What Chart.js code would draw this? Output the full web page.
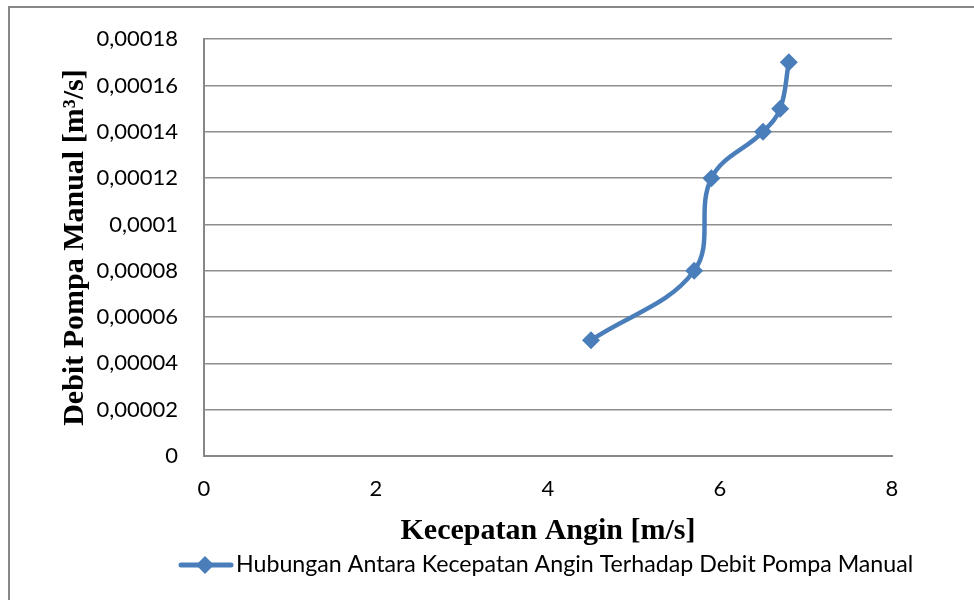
<!DOCTYPE html>
<html>
<head>
<meta charset="utf-8">
<script src="https://cdn.jsdelivr.net/npm/chart.js@4"></script>
<style>
  html, body { margin: 0; padding: 0; background: #ffffff; }
  #wrap { width: 974px; height: 600px; position: relative; }
</style>
</head>
<body>
<div id="wrap"><canvas id="chart" width="974" height="600"></canvas></div>
<script>
// Wind speed (m/s) against manual pump discharge (m³/s)
const windSpeed = [4.5, 5.7, 5.9, 6.5, 6.7, 6.8];
const pumpFlow = [0.00005, 0.00008, 0.00012, 0.00014, 0.00015, 0.00017];

const xTickValues = [0, 2, 4, 6, 8];
const yTickValues = [0, 0.00002, 0.00004, 0.00006, 0.00008, 0.0001, 0.00012, 0.00014, 0.00016, 0.00018];

const seriesLabel = 'Hubungan Antara Kecepatan Angin Terhadap Debit Pompa Manual';
const xTitle = 'Kecepatan Angin [m/s]';
const yTitle = 'Debit Pompa Manual [m³/s]';

const BLUE = '#4a7ebb';
const AXIS = '#878787';
const GRID = '#8e8e8e';

// decimal comma, trailing zeros dropped
function fmt(v) {
  if (v === 0) return '0';
  return String(Number(v.toFixed(6))).replace('.', ',');
}

// outer frame of the chart object
const framePlugin = {
  id: 'frame',
  beforeDraw(chart) {
    const ctx = chart.ctx;
    ctx.save();
    ctx.strokeStyle = AXIS;
    ctx.lineWidth = 2;
    ctx.strokeRect(9, 7, 1100, 1100);
    ctx.restore();
  }
};

// legend row under the x-axis title: line swatch with diamond, then the series name
const seriesKeyPlugin = {
  id: 'seriesKey',
  afterDraw(chart) {
    const ctx = chart.ctx;
    const ds = chart.data.datasets[0];
    const y = 565;
    ctx.save();
    ctx.strokeStyle = ds.borderColor;
    ctx.lineWidth = 5;
    ctx.lineCap = 'round';
    ctx.beginPath();
    ctx.moveTo(181, y);
    ctx.lineTo(231, y);
    ctx.stroke();
    ctx.fillStyle = ds.pointBackgroundColor;
    ctx.beginPath();
    ctx.moveTo(205, y - 9);
    ctx.lineTo(214, y);
    ctx.lineTo(205, y + 9);
    ctx.lineTo(196, y);
    ctx.closePath();
    ctx.fill();
    ctx.fillStyle = '#000000';
    ctx.font = '23.2px Lato';
    ctx.textAlign = 'left';
    ctx.textBaseline = 'middle';
    ctx.fillText(ds.label, 236, y);
    ctx.restore();
  }
};

function build() {
  new Chart(document.getElementById('chart'), {
    type: 'scatter',
    data: {
      datasets: [{
        label: seriesLabel,
        data: windSpeed.map((x, i) => ({ x: x, y: pumpFlow[i] })),
        showLine: true,
        borderColor: BLUE,
        backgroundColor: BLUE,
        borderWidth: 4.5,
        tension: 0.38,
        pointStyle: 'rectRot',
        pointRadius: 9,
        pointHoverRadius: 9,
        pointBorderWidth: 0,
        pointBackgroundColor: BLUE,
        clip: false
      }]
    },
    options: {
      responsive: false,
      devicePixelRatio: 1,
      animation: false,
      layout: { padding: { left: 55, top: 37, right: 82, bottom: 51 } },
      plugins: {
        tooltip: { enabled: false },
        legend: { display: false }
      },
      scales: {
        x: {
          type: 'linear',
          min: 0,
          max: 8,
          afterBuildTicks: s => { s.ticks = xTickValues.map(v => ({ value: v })); },
          afterFit: s => { s.height = 93; },
          grid: { display: false, drawTicks: false },
          border: { display: true, color: AXIS, width: 2 },
          ticks: {
            padding: 20,
            color: '#000000',
            font: { family: 'Lato', size: 22 },
            callback: v => fmt(v)
          },
          title: {
            display: true,
            text: xTitle,
            color: '#000000',
            padding: { top: 0, bottom: 0 },
            font: { family: 'Liberation Serif', size: 30, weight: 'bold' }
          }
        },
        y: {
          type: 'linear',
          min: 0,
          max: 0.00018,
          afterBuildTicks: s => { s.ticks = yTickValues.map(v => ({ value: v })); },
          afterFit: s => { s.width = 149; },
          grid: { color: GRID, lineWidth: 1.5, drawTicks: false },
          border: { display: true, color: AXIS, width: 2 },
          ticks: {
            padding: 26,
            color: '#000000',
            font: { family: 'Lato', size: 22 },
            callback: v => fmt(v)
          },
          title: {
            display: true,
            text: yTitle,
            color: '#000000',
            padding: { top: 2, bottom: 0 },
            font: { family: 'Liberation Serif', size: 30, weight: 'bold' }
          }
        }
      }
    },
    plugins: [framePlugin, seriesKeyPlugin]
  });
}

const fontLoads = document.fonts
  ? Promise.all([
      document.fonts.load('22px Lato'),
      document.fonts.load('23.2px Lato'),
      document.fonts.load('bold 30px "Liberation Serif"')
    ]).catch(() => {})
  : Promise.resolve();
fontLoads.then(build);
</script>
</body>
</html>
